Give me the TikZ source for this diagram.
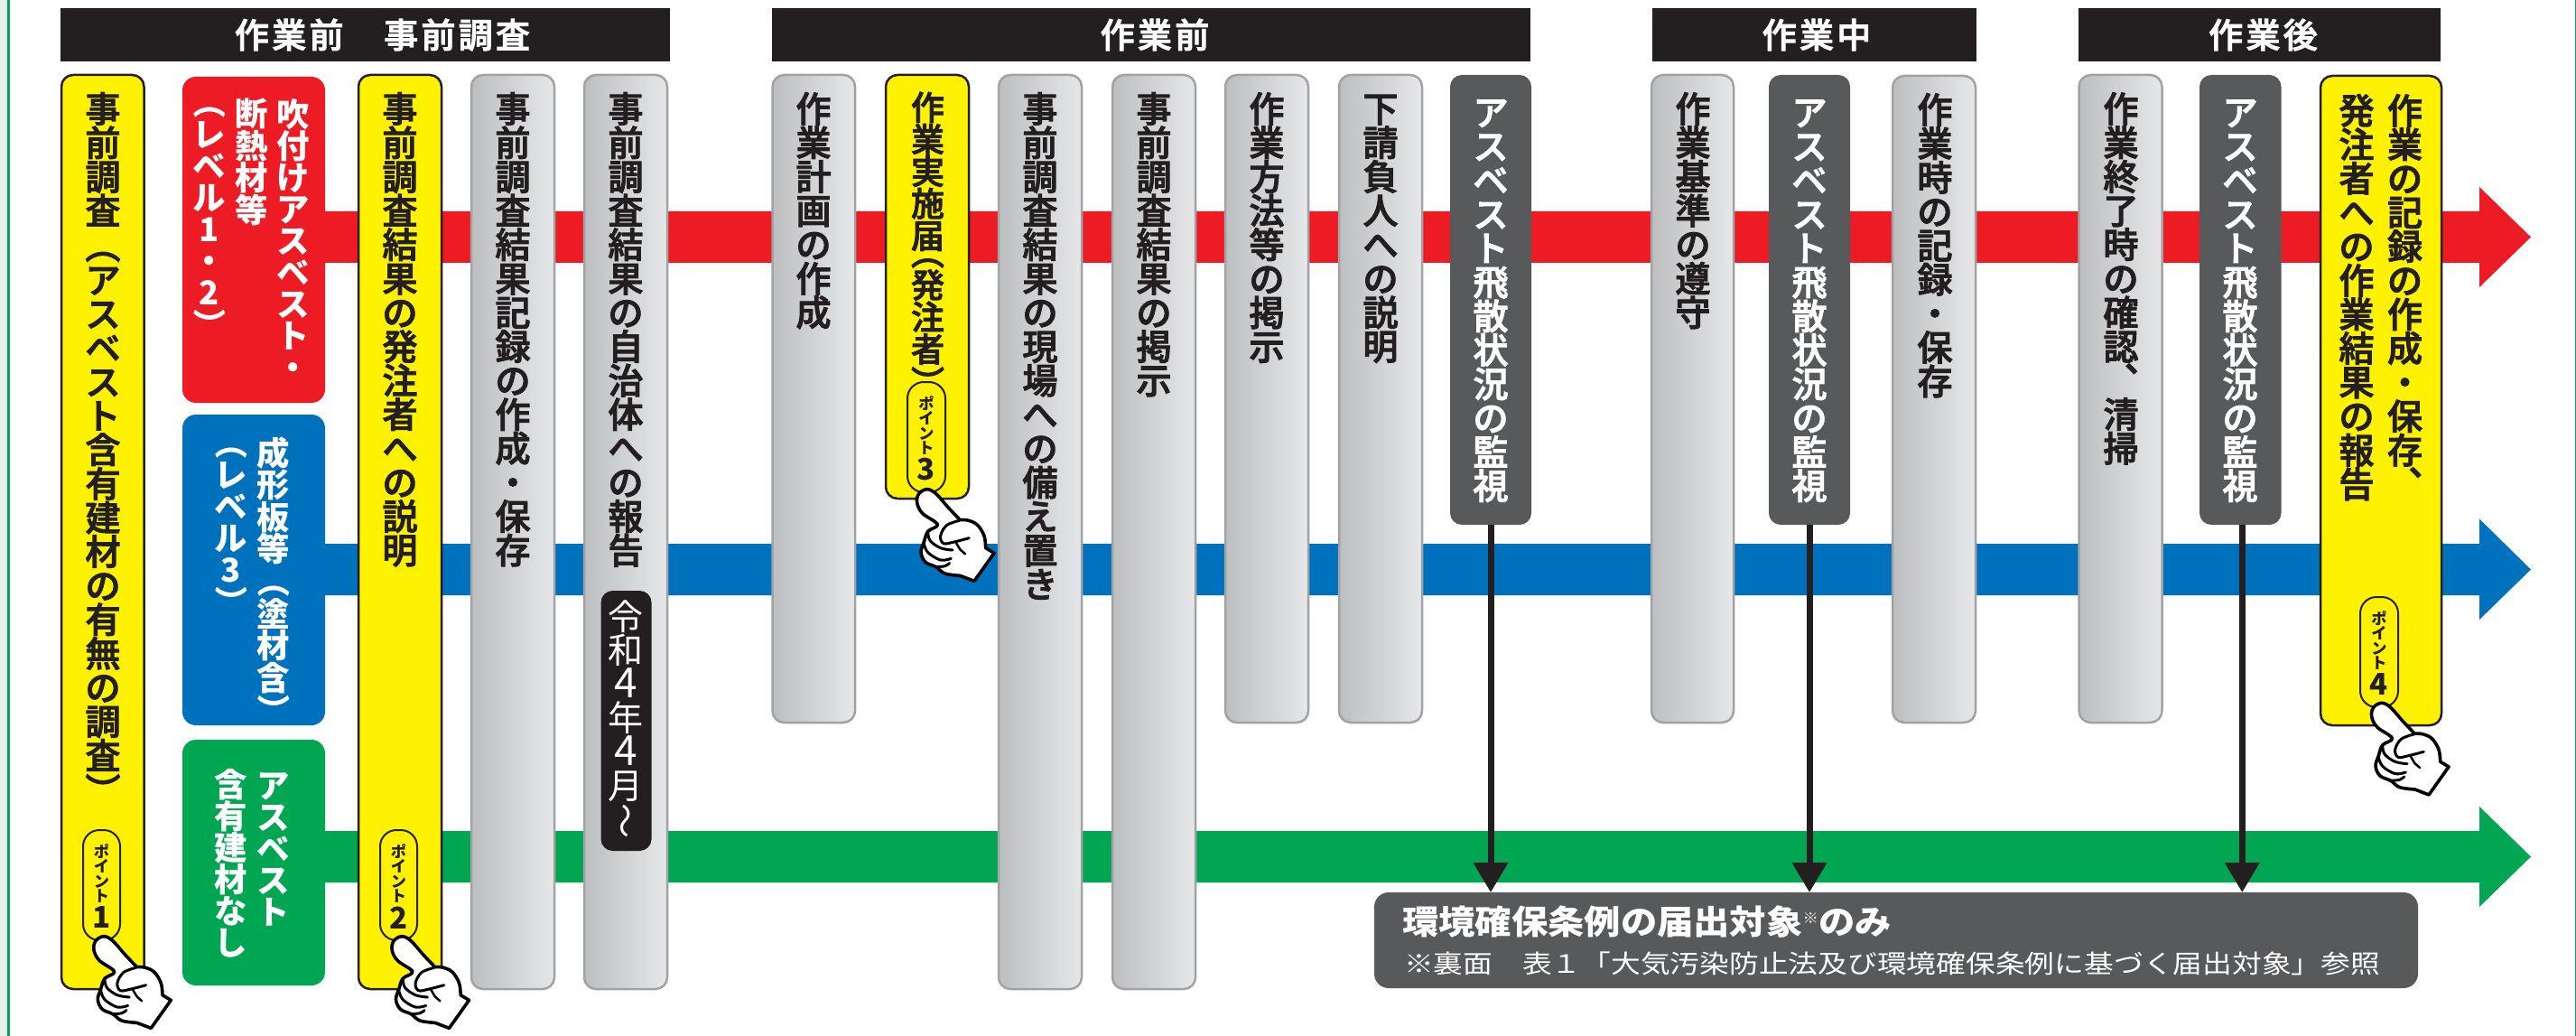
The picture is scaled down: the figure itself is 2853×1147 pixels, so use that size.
\documentclass[tikz,border=0pt]{standalone}
\usepackage{fontspec}
\usepackage{graphicx}
\setmainfont{Noto Sans CJK JP}
\newfontfamily\medjp[FakeBold=2.5]{Noto Sans CJK JP Medium}
\usetikzlibrary{arrows.meta}
\definecolor{cred}{HTML}{ED1C24}
\definecolor{cblue}{HTML}{0071BC}
\definecolor{cgreen}{HTML}{00A651}
\definecolor{cyel}{HTML}{FFF200}
\definecolor{cink}{HTML}{231F20}
\definecolor{cdark}{HTML}{58595B}
\definecolor{cgl}{HTML}{BCBEC0}
\definecolor{cgr}{HTML}{E6E7E8}
\definecolor{cgb}{HTML}{A0A2A5}
\definecolor{cpale}{HTML}{E3F3E9}
\makeatletter
\newlength\vpitch
\newlength\vfsz
\newcommand\VT[2]{\vbox{\offinterlineskip\setlength\vpitch{#1pt}\setlength\vfsz{1.04\vpitch}\fontsize{\vfsz}{\vfsz}\selectfont
  \@tfor\mycell:=#2\do{\gdef\vcb{0pt}\gdef\vca{0pt}%
    \setbox0=\hbox to \vpitch{\vrule height.88\vpitch depth.12\vpitch width0pt\hss\mycell\hss}%
    \vskip\vcb\box0\vskip\vca}}}
\newcommand\HT[3]{{\fontsize{#2}{#2}\selectfont\vrule height.88em depth.12em width0pt\@tfor\mycell:=#3\do{\hbox to #1pt{\hss\mycell\hss}}}}
\makeatother
\newcommand\RT[1]{\rotatebox[origin=c]{-90}{\hbox to 1em{\vrule height.88em depth.12em width0pt\hss#1\hss}}}
\newcommand\OP{\RT{（}}
\newcommand\CP{\RT{）}}
\newcommand\OPH{\gdef\vcb{-.5\vpitch}\RT{（}}
\newcommand\CPH{\gdef\vca{-.5\vpitch}\RT{）}}
\newcommand\TEN{\hbox to 1em{\kern.6em\raisebox{.62em}[0pt][0pt]{、}\hss}}
\newcommand\WAVE{\rotatebox[origin=c]{90}{\hbox to 1em{\vrule height.88em depth.12em width0pt\hss 〜\hss}}}
\newcommand\BD[1]{{\fontsize{46}{46}\selectfont #1}}
\tikzset{
  barbase/.style={rectangle,rounded corners=13pt,inner sep=0pt,outer sep=0pt,anchor=north west},
  yelbar/.style={barbase,fill=cyel,draw=cink,line width=2.5pt},
  graybar/.style={barbase,left color=cgl,right color=cgr,draw=cgb,line width=2.5pt},
  darkbar/.style={barbase,fill=cdark},
  redbox/.style={barbase,rounded corners=15pt,fill=cred},
  bluebox/.style={barbase,rounded corners=15pt,fill=cblue},
  greenbox/.style={barbase,rounded corners=15pt,fill=cgreen},
  headbar/.style={rectangle,inner sep=0pt,outer sep=0pt,fill=cink,text=white,font=\medjp},
  badge/.style={barbase,rounded corners=18pt,draw=cink,line width=2pt},
  vtxt/.style={inner sep=0pt,outer sep=0pt,anchor=north,font=\bfseries},
  vmed/.style={inner sep=0pt,outer sep=0pt,anchor=north,font=\medjp},
  band/.style={draw=none},
  notearrow/.style={draw=cink,line width=7pt,-{Triangle[width=37pt,length=33pt]}},
  handline/.style={draw=black,line width=3.6pt,line join=round,line cap=round},
  pointing/.pic={
    \begin{scope}[x=.3333pt,y=-.3333pt,shift={(-100,-410)}]
      \path[handline,fill=white] plot[smooth,tension=.6] coordinates {(215,512)(175,470)(135,425)(105,410)(78,425)(72,455)(90,490)(140,527)(108,550)(95,585)(85,620)(100,652)(135,668)(165,690)(215,697)} -- (262,715) -- (328,622) -- (300,605) -- plot[smooth,tension=.6] coordinates {(300,605)(295,565)(272,528)(240,513)(215,512)} -- cycle;
      \path[handline,line width=3pt] plot[smooth,tension=.6] coordinates {(212,514)(170,530)(150,565)(160,590)(195,585)(245,572)};
      \path[handline,line width=2.5pt] (200,585) -- (215,610) -- (232,625);
      \path[handline,line width=3pt] plot[smooth,tension=.6] coordinates {(108,550)(115,580)(150,605)(190,612)};
      \path[handline,line width=3pt] plot[smooth,tension=.6] coordinates {(95,590)(108,620)(150,645)(185,640)};
      \path[handline,line width=3pt] plot[smooth,tension=.6] coordinates {(135,668)(165,665)(180,655)};
    \end{scope}
  }
}
% name, style, x1, x2, y1, y2
\newcommand\mybar[6]{\node[#2,minimum width={(#4-#3)*1pt},minimum height={(#6-#5)*1pt}] (#1) at (#3,#5) {};}
% name, x, y, colour, pitch, list (bold)
\newcommand\vlabel[6]{\node[vtxt,text=#4] (#1) at (#2,#3) {\VT{#5}{#6}};}
% name, x, y, colour, pitch, list (medium)
\newcommand\mlabel[6]{\node[vmed,text=#4] (#1) at (#2,#3) {\VT{#5}{#6}};}
% name, x1, x2, y1, y2 digit
\newcommand\mybadge[6]{%
  \mybar{#1}{badge}{#2}{#3}{#4}{#5}
  \node[vtxt,text=cink] (#1t) at ({(#2+#3)/2},#4+15) {\VT{16.5}{ポイント}};
  \node[inner sep=0pt,outer sep=0pt,font=\bfseries,text=cink] (#1d) at ({(#2+#3)/2},#4+97) {\fontsize{33}{33}\selectfont #6};}
\begin{document}
\begin{tikzpicture}[x=1pt,y=-1pt]
\useasboundingbox (0,0) rectangle (2853,1147);
\fill[white] (0,0) rectangle (2853,1147);
\fill[cpale] (0,0) rectangle (8,1147);
\fill[cgreen] (8,0) rectangle (10.5,1147);
\fill[cgreen] (2851.5,0) rectangle (2853,1147);
% headers
\node[headbar,minimum width=675pt,minimum height=59pt] (h1) at (404.5,38.5) {\kern38pt\HT{41.3}{38}{作業前　事前調査}};
\node[headbar,minimum width=840pt,minimum height=59pt] (h2) at (1275,38.5) {\kern8pt\HT{41.3}{38}{作業前}};
\node[headbar,minimum width=359pt,minimum height=59pt] (h3) at (2009.5,38.5) {\kern5pt\HT{41.3}{38}{作業中}};
\node[headbar,minimum width=401pt,minimum height=59pt] (h4) at (2502.5,38.5) {\kern8pt\HT{41.3}{38}{作業後}};
% bands
\fill[cred,band] (350,234) -- (2746,234) -- (2746,207) -- (2803,262.5) -- (2746,318) -- (2746,291) -- (350,291) -- cycle;
\fill[cblue,band] (350,602) -- (2746,602) -- (2746,574.5) -- (2803,630.5) -- (2746,686) -- (2746,659) -- (350,659) -- cycle;
\fill[cgreen,band] (350,920) -- (2746,920) -- (2746,893) -- (2803,948.5) -- (2746,1004) -- (2746,977) -- (350,977) -- cycle;
% level boxes
\mybar{lv1}{redbox}{202}{360}{85}{446}
\vlabel{lv1a}{325}{109}{white}{35}{吹付けアスベスト・}
\vlabel{lv1b}{279}{109}{white}{35}{断熱材等}
\vlabel{lv1c}{232}{113}{white}{35}{\OPH レベル{1}・{2}\CPH}
\mybar{lv2}{bluebox}{202}{360}{459}{803}
\vlabel{lv2a}{303}{484}{white}{35}{成形板等\OP 塗材含\CP}
\vlabel{lv2b}{256}{490}{white}{35}{\OPH レベル{3}\CPH}
\mybar{lv3}{greenbox}{202}{360}{819}{1091}
\vlabel{lv3a}{303}{853}{white}{35}{アスベスト}
\vlabel{lv3b}{256}{851}{white}{35}{含有建材なし}
% bars: pre-survey
\mybar{a1}{yelbar}{68}{159.5}{83}{1095}
\mlabel{a1t}{114}{102}{cink}{37.6}{事前調査\OP アスベスト含有建材の有無の調査\CP}
\mybadge{p1}{92}{133}{919}{1041}{1}
\mybar{a2}{yelbar}{397}{489}{83}{1095}
\mlabel{a2t}{443}{102}{cink}{37.6}{事前調査結果の発注者への説明}
\mybadge{p2}{421}{462}{919}{1041}{2}
\mybar{a3}{graybar}{522}{614}{83}{1095}
\mlabel{a3t}{568}{102}{cink}{37.6}{事前調査結果記録の作成・保存}
\mybar{a4}{graybar}{647}{739}{83}{1095}
\mlabel{a4t}{693}{102}{cink}{37.6}{事前調査結果の自治体への報告}
\node[rectangle,rounded corners=13pt,fill=cink,inner sep=0pt,outer sep=0pt,anchor=north west,minimum width=56pt,minimum height=288pt] (a4n) at (665.5,654) {};
\node[inner sep=0pt,outer sep=0pt,anchor=north,text=white] (a4m) at (693,664) {\VT{37.5}{令和{\BD4}年{\BD4}月\WAVE}};
% bars: before work
\mybar{b1}{graybar}{855.5}{947}{83}{800}
\mlabel{b1t}{901}{102}{cink}{37.6}{作業計画の作成}
\mybar{b2}{yelbar}{981}{1073}{83}{552}
\mlabel{b2t}{1027.5}{101.5}{cink}{35.5}{作業実施届\OPH 発注者\CPH}
\mybadge{p3}{1005}{1047}{423}{545}{3}
\mybar{b3}{graybar}{1106}{1198}{83}{1095}
\mlabel{b3t}{1152}{102}{cink}{37.6}{事前調査結果の現場への備え置き}
\mybar{b4}{graybar}{1232}{1324}{83}{1095}
\mlabel{b4t}{1278}{102}{cink}{37.6}{事前調査結果の掲示}
\mybar{b5}{graybar}{1357}{1449}{83}{800}
\mlabel{b5t}{1403}{102}{cink}{37.6}{作業方法等の掲示}
\mybar{b6}{graybar}{1483}{1575}{83}{800}
\mlabel{b6t}{1529}{102}{cink}{37.6}{下請負人への説明}
\mybar{d1}{darkbar}{1606}{1696}{83}{581}
\mlabel{d1t}{1651}{106}{white}{37.6}{アスベスト飛散状況の監視}
% bars: during work
\mybar{c1}{graybar}{1829}{1920}{83}{800}
\mlabel{c1t}{1875}{102}{cink}{37.6}{作業基準の遵守}
\mybar{d2}{darkbar}{1959}{2049}{83}{581}
\mlabel{d2t}{2004}{106}{white}{37.6}{アスベスト飛散状況の監視}
\mybar{c3}{graybar}{2096}{2188}{84}{800}
\mlabel{c3t}{2143}{103}{cink}{37.6}{作業時の記録・保存}
% bars: after work
\mybar{e1}{graybar}{2302.5}{2394.5}{83}{800}
\mlabel{e1t}{2349}{102}{cink}{37.6}{作業終了時の確認\TEN 清掃}
\mybar{d3}{darkbar}{2436}{2526.5}{83}{581}
\mlabel{d3t}{2481}{106}{white}{37.6}{アスベスト飛散状況の監視}
\mybar{e3}{yelbar}{2570}{2704}{84}{803}
\mlabel{e3a}{2663.5}{104}{cink}{37.6}{作業の記録の作成・保存\TEN}
\mlabel{e3b}{2610}{104}{cink}{37.6}{発注者への作業結果の報告}
\mybadge{p4}{2614}{2656}{661}{783}{4}
% note
\node[rectangle,rounded corners=16pt,fill=cdark,inner sep=0pt,outer sep=0pt,anchor=north west,minimum width=1156pt,minimum height=106pt] (note) at (1522,988) {};
\node[inner sep=0pt,outer sep=0pt,anchor=west,text=white,font=\bfseries] (notea) at (1553,1020) {\scalebox{1.09}[1]{\fontsize{37}{37}\selectfont 環境確保条例の届出対象\raisebox{.3em}{\fontsize{16}{16}\selectfont ※}のみ}};
\node[inner sep=0pt,outer sep=0pt,anchor=west,text=white] (noteb) at (1555,1067) {\scalebox{1.17}[1]{\fontsize{28}{28}\selectfont ※裏面　表１「大気汚染防止法及び環境確保条例に基づく届出対象」参照}};
% connectors
\draw[notearrow] (d1.south) -- (d1.south |- note.north);
\draw[notearrow] (d2.south) -- (d2.south |- note.north);
\draw[notearrow] ([xshift=2pt]d3.south) -- ([xshift=2pt]d3.south |- note.north);
% pointing hands
\pic at (113.3,1036.7) {pointing};
\pic at (443.5,1036.7) {pointing};
\pic at (1025,541.7) {pointing};
\pic at (2636,778.3) {pointing};
\end{tikzpicture}
\end{document}
